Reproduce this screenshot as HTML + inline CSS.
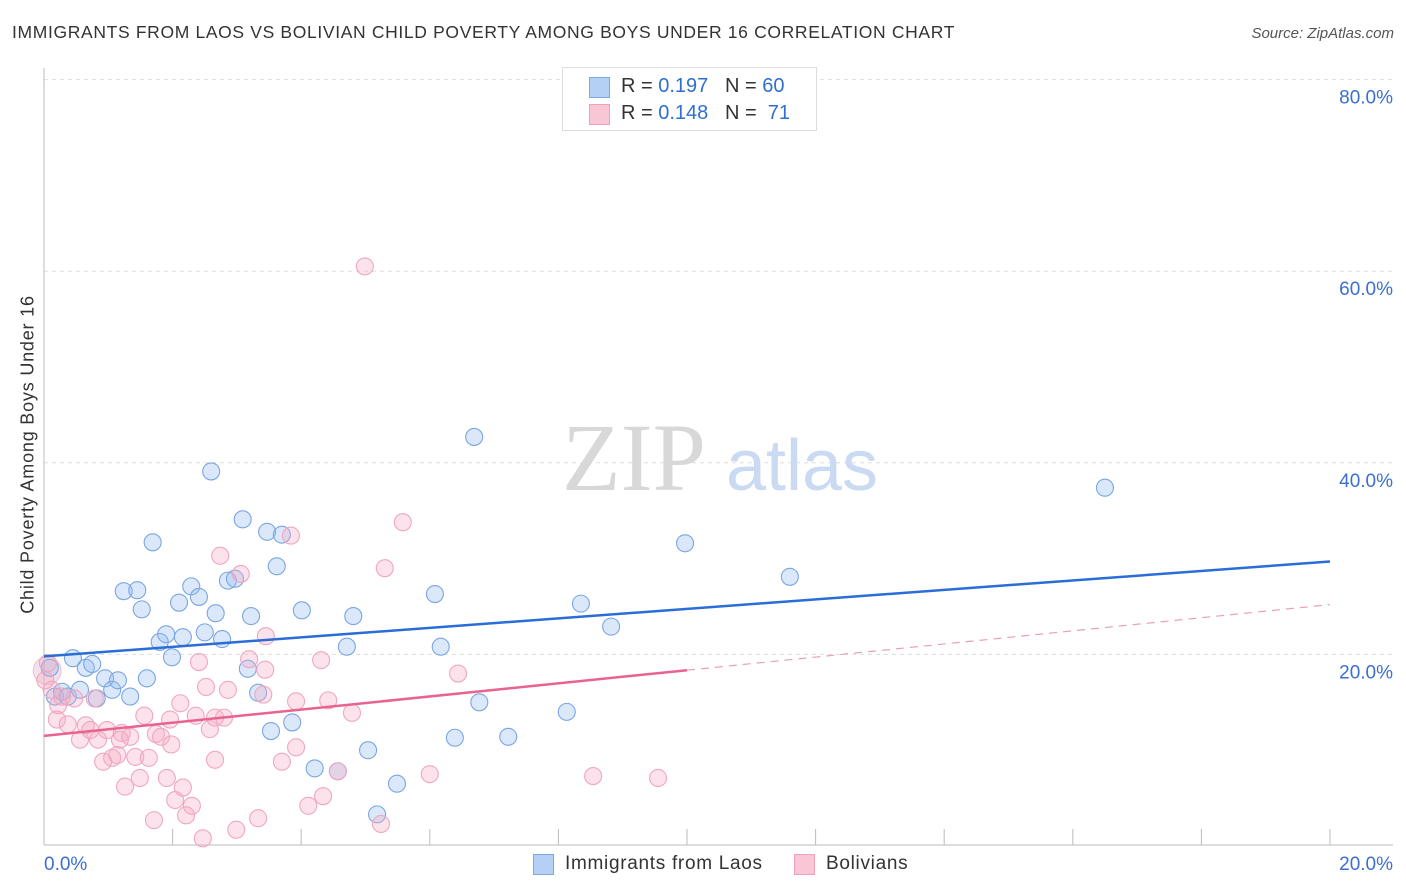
<!DOCTYPE html>
<html><head><meta charset="utf-8"><style>
body{margin:0;background:#fff;font-family:"Liberation Sans",sans-serif;}
#wrap{position:relative;width:1406px;height:892px;overflow:hidden;}
.t{position:absolute;white-space:nowrap;}
</style></head><body>
<div id="wrap">
<div class="t" style="left:12px;top:22px;font-size:17.5px;letter-spacing:0.65px;color:#333;">IMMIGRANTS FROM LAOS VS BOLIVIAN CHILD POVERTY AMONG BOYS UNDER 16 CORRELATION CHART</div>
<div class="t" style="right:12px;top:25px;font-size:15px;color:#555;font-style:italic;">Source: ZipAtlas.com</div>
<div class="t" style="left:-152px;top:444px;width:360px;text-align:center;font-size:18px;letter-spacing:0.8px;color:#333;transform:rotate(-90deg);">Child Poverty Among Boys Under 16</div>
<svg id="svg" width="1406" height="892" style="position:absolute;left:0;top:0"></svg>
<div style="position:absolute;left:562px;top:67px;width:253px;height:62px;border:1px solid #ddd;background:#fff;">
 <div style="position:absolute;left:26px;top:9px;width:19px;height:19px;background:#b5d0f5;border:1px solid #7fa8e0;"></div>
 <div class="t" style="left:58px;top:7px;font-size:20px;color:#333;">R = <span style="color:#2f6fd0">0.197</span>&nbsp;&nbsp;&nbsp;N = <span style="color:#2f6fd0">60</span></div>
 <div style="position:absolute;left:26px;top:36px;width:19px;height:19px;background:#f9c6d5;border:1px solid #f0a0bb;"></div>
 <div class="t" style="left:58px;top:34px;font-size:20px;color:#333;">R = <span style="color:#2f6fd0">0.148</span>&nbsp;&nbsp;&nbsp;N = &nbsp;<span style="color:#2f6fd0">71</span></div>
</div>
<div style="position:absolute;left:533px;top:854px;width:19px;height:19px;background:#b5d0f5;border:1px solid #7fa8e0;"></div>
<div class="t" style="left:565px;top:853px;font-size:19px;letter-spacing:0.7px;color:#333;">Immigrants from Laos</div>
<div style="position:absolute;left:794px;top:854px;width:19px;height:19px;background:#f9c6d5;border:1px solid #f0a0bb;"></div>
<div class="t" style="left:826px;top:853px;font-size:19px;letter-spacing:0.7px;color:#333;">Bolivians</div>
</div>
<script>
const yTicks=[20,40,60,80];
const yTickLabels=["20.0%","40.0%","60.0%","80.0%"];
const xEndLabels=["0.0%","20.0%"];
const laosX=[0.09,0.17,0.28,0.37,0.45,0.56,0.65,0.75,0.82,0.95,1.06,1.15,1.24,1.34,1.45,1.52,1.60,1.69,1.80,1.90,1.99,2.10,2.16,2.29,2.41,2.50,2.60,2.67,2.77,2.86,2.97,3.09,3.17,3.22,3.33,3.47,3.62,3.70,3.86,3.53,4.01,4.21,4.57,4.71,4.81,5.04,5.18,5.49,6.08,6.17,6.39,6.69,6.77,7.22,8.13,8.35,8.82,9.97,11.60,16.50];
const laosY=[18.6,15.6,16.1,15.6,19.6,16.3,18.6,19.0,15.4,17.5,16.3,17.3,26.6,15.6,26.7,24.7,17.5,31.7,21.3,22.1,19.7,25.4,21.8,27.1,26.0,22.3,39.1,24.3,21.6,27.7,27.9,34.1,18.5,24.0,16.0,32.8,29.2,32.5,12.9,12.0,24.6,8.1,7.8,20.8,24.0,10.0,3.3,6.5,26.3,20.8,11.3,42.7,15.0,11.4,14.0,25.3,22.9,31.6,28.1,37.4];
const bolX=[0.06,0.12,0.20,0.28,0.37,0.47,0.56,0.65,0.72,0.79,0.84,0.92,0.98,1.06,1.14,1.21,1.26,1.34,1.42,1.49,1.56,1.63,1.71,1.74,1.82,1.91,1.98,2.04,2.12,2.16,2.21,2.30,2.36,2.41,2.47,2.52,2.58,2.66,2.74,2.80,2.86,2.99,3.06,3.19,3.33,3.41,3.45,3.70,3.84,3.92,3.92,4.11,4.31,4.34,4.42,4.57,4.79,4.99,5.24,5.30,5.58,6.00,6.44,8.54,9.55,0.02,0.22,1.18,1.96,3.44,2.66];
const bolY=[19.1,16.3,13.2,15.6,12.7,15.4,11.1,12.6,12.1,15.4,11.1,8.8,12.1,9.2,9.5,11.8,6.2,11.4,9.3,7.1,13.6,9.2,2.7,11.7,11.4,7.1,10.6,4.8,14.9,6.1,3.2,4.2,13.6,19.2,0.8,16.6,12.2,13.4,30.3,13.4,16.3,1.7,28.4,19.5,2.9,15.8,21.9,8.8,32.4,15.1,10.3,4.2,19.4,5.2,15.2,7.8,13.9,60.5,2.3,29.0,33.8,7.5,18.0,7.3,7.1,17.3,14.7,11.1,13.2,18.4,9.0];
const laosTrend=[19.8,29.7];
const bolTrend=[11.5,25.2];
const bolSolidEnd=10;

const X0=44,X1=1330,Y0=846,PXPERPCT=9.58;
const sx=v=>X0+v*(X1-X0)/20;
const sy=v=>Y0-v*PXPERPCT;
const svg=document.getElementById('svg');
const NS='http://www.w3.org/2000/svg';
function mk(tag,attrs){const e=document.createElementNS(NS,tag);for(const k in attrs)e.setAttribute(k,attrs[k]);svg.appendChild(e);return e;}

yTicks.forEach((t,i)=>{
 const g=mk('line',{x1:X0,x2:1393,y1:sy(t),y2:sy(t),stroke:'#ddd','stroke-dasharray':'4,4'});
 
 
 const l=mk('text',{x:1393,y:sy(t)+24,'text-anchor':'end','font-size':19,fill:'#3b6fd0','font-family':'Liberation Sans, sans-serif'});
 l.textContent=yTickLabels[i];
 
 
});
const ax=mk('line',{x1:X0,x2:X0,y1:68,y2:845,stroke:'#bbb'});


const bx=mk('line',{x1:X0,x2:1393,y1:845,y2:845,stroke:'#bbb'});


for(let i=1;i<=10;i++){
 const tk=mk('line',{x1:sx(i*2),x2:sx(i*2),y1:829,y2:845,stroke:'#bbb'});
 
 
}
[[0,'start',X0],[1,'end',1393]].forEach(([i,a,x])=>{
 const t=mk('text',{x:x,y:870,'text-anchor':a,'font-size':19,fill:'#3b6fd0','font-family':'Liberation Sans, sans-serif'});
 t.textContent=xEndLabels[i];
 
 
});
const w1=mk('text',{x:634,y:490,'text-anchor':'middle','font-size':96,fill:'#d8d8d8','font-family':'Liberation Serif, serif'});
w1.textContent='ZIP';


const w2=mk('text',{x:802,y:490,'text-anchor':'middle','font-size':72,fill:'#c9daf2','font-family':'Liberation Sans, sans-serif'});
w2.textContent='atlas';



const big=mk('circle',{cx:sx(0.05),cy:sy(18.3),r:14,fill:'rgba(220,170,200,0.35)',stroke:'rgba(230,160,190,0.6)'});


laosX.forEach((x,i)=>{
 const c=mk('circle',{cx:sx(x),cy:sy(laosY[i]),r:8.5,fill:'rgba(150,190,240,0.35)',stroke:'#7aa6e2','stroke-width':1.1});
 
 
});
bolX.forEach((x,i)=>{
 const c=mk('circle',{cx:sx(x),cy:sy(bolY[i]),r:8.5,fill:'rgba(245,170,195,0.33)',stroke:'#f0a6c0','stroke-width':1.1});
 
 
});
const tl=mk('line',{x1:sx(0),y1:sy(laosTrend[0]),x2:sx(20),y2:sy(laosTrend[1]),stroke:'#2a6dd6','stroke-width':2.5});


const bm=bolTrend[0]+(bolTrend[1]-bolTrend[0])*bolSolidEnd/20;
const tb=mk('line',{x1:sx(0),y1:sy(bolTrend[0]),x2:sx(bolSolidEnd),y2:sy(bm),stroke:'#e8638e','stroke-width':2.5});


const td=mk('line',{x1:sx(bolSolidEnd),y1:sy(bm),x2:sx(20),y2:sy(bolTrend[1]),stroke:'#e8a0b8','stroke-width':1.2,'stroke-dasharray':'8,6'});


</script>
</body></html>
